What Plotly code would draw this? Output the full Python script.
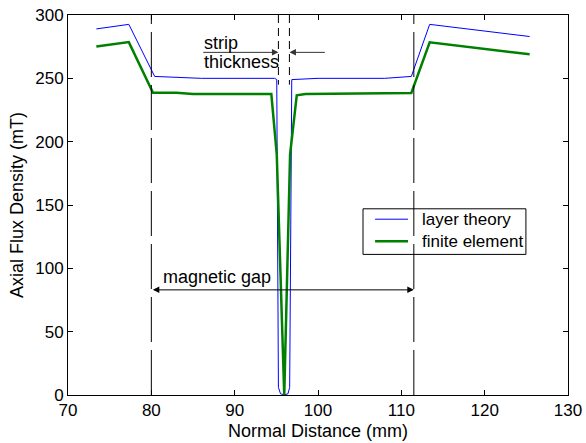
import plotly.graph_objects as go

# Data
blue_x = [73.4, 77.3, 80.4, 82.0, 86.0, 94.8, 95.05, 95.25, 95.5, 95.95, 96.4, 96.6, 96.85, 100.0, 108.0, 111.2, 113.4, 125.4]
blue_y = [289.0, 292.6, 251.5, 251.0, 250.0, 250.0, 249.0, 6.0, 1.0, 0.0, 1.0, 6.0, 249.0, 250.0, 250.0, 251.5, 292.6, 283.0]

green_x = [73.4, 77.3, 80.2, 83.0, 85.0, 94.4, 95.05, 95.95, 96.65, 97.45, 98.5, 110.0, 111.2, 113.4, 125.4]
green_y = [275.2, 278.6, 238.6, 238.6, 237.6, 237.6, 190.0, 0.0, 190.0, 236.6, 237.6, 238.0, 238.4, 278.4, 269.0]

series_names = ["layer theory", "finite element"]
series_colors = ["#0000ff", "#008000"]
series_widths = [1, 2.5]

gap_x = [80.0, 111.5]          # magnetic gap boundaries
strip_x = [95.25, 96.57]       # strip thickness boundaries
gap_arrow_y = 83.0
strip_arrow_y = 270.5

x_ticks = [70, 80, 90, 100, 110, 120, 130]
y_ticks = [0, 50, 100, 150, 200, 250, 300]

FONT = "Liberation Sans, Arial, sans-serif"
TXT = 18

fig = go.Figure()
for xs, ys, nm, col, w in zip([blue_x, green_x], [blue_y, green_y], series_names,
                              series_colors, series_widths):
    fig.add_trace(go.Scatter(x=xs, y=ys, mode="lines", name=nm,
                             line=dict(color=col, width=w), showlegend=False))

shapes = []
for gx in gap_x:
    shapes.append(dict(type="line", xref="x", yref="y", x0=gx, x1=gx, y0=0, y1=300,
                       line=dict(color="black", width=1, dash="45px,8px")))
for sx in strip_x:
    shapes.append(dict(type="line", xref="x", yref="y", x0=sx, x1=sx, y0=300, y1=245,
                       line=dict(color="black", width=1, dash="8px,5px")))

# legend box (drawn, MATLAB style)
leg_x0, leg_x1, leg_y0, leg_y1 = 105.4, 124.95, 111.0, 147.0
leg_rows = [138.8, 121.4]
shapes.append(dict(type="rect", xref="x", yref="y", x0=leg_x0, x1=leg_x1, y0=leg_y0, y1=leg_y1,
                   line=dict(color="black", width=1), fillcolor="rgba(0,0,0,0)"))
for ry, col, w in zip(leg_rows, series_colors, series_widths):
    shapes.append(dict(type="line", xref="x", yref="y", x0=106.85, x1=110.8, y0=ry, y1=ry,
                       line=dict(color=col, width=w)))

annotations = [
    dict(x=112.2, y=(leg_rows[0] + leg_rows[1]) / 2, xref="x", yref="y",
         text="<br>".join(series_names), showarrow=False, align="left",
         xanchor="left", yanchor="middle",
         font=dict(size=17, color="black", family=FONT)),
    # magnetic gap double arrow
    dict(x=gap_x[1], y=gap_arrow_y, ax=gap_x[0], ay=gap_arrow_y, xref="x", yref="y",
         axref="x", ayref="y", text="", showarrow=True, arrowhead=2, startarrowhead=2,
         arrowside="end+start", arrowsize=1.3, arrowwidth=1, arrowcolor="black"),
    dict(x=81.2, y=93, xref="x", yref="y", text="magnetic gap", showarrow=False,
         xanchor="left", yanchor="middle", font=dict(size=TXT, color="black", family=FONT)),
    # strip thickness arrows
    dict(x=strip_x[0], y=strip_arrow_y, ax=86.05, ay=strip_arrow_y, xref="x", yref="y",
         axref="x", ayref="y", text="", showarrow=True, arrowhead=2, arrowsize=1.3,
         arrowwidth=1, arrowcolor="#333333"),
    dict(x=strip_x[1], y=strip_arrow_y, ax=101.0, ay=strip_arrow_y, xref="x", yref="y",
         axref="x", ayref="y", text="", showarrow=True, arrowhead=2, arrowsize=1.3,
         arrowwidth=1, arrowcolor="#333333"),
    dict(x=86.1, y=278, xref="x", yref="y", text="strip", showarrow=False,
         xanchor="left", yanchor="middle", font=dict(size=TXT, color="black", family=FONT)),
    dict(x=86.1, y=263, xref="x", yref="y", text="thickness", showarrow=False,
         xanchor="left", yanchor="middle", font=dict(size=TXT, color="black", family=FONT)),
]

axis_common = dict(showline=True, linecolor="black", linewidth=1, mirror="ticks",
                   ticks="inside", ticklen=5, tickcolor="black", showgrid=False,
                   zeroline=False, automargin=False,
                   tickfont=dict(size=17, color="black", family=FONT))

fig.update_layout(
    width=586, height=443,
    margin=dict(l=68, r=18, t=15, b=48, autoexpand=False),
    paper_bgcolor="white", plot_bgcolor="white",
    font=dict(family=FONT, size=TXT, color="black"),
    xaxis=dict(range=[70, 130], tickvals=x_ticks, autorange=False,
               title=dict(text="Normal Distance (mm)", font=dict(size=TXT), standoff=4),
               **axis_common),
    yaxis=dict(range=[0, 300], tickvals=y_ticks, autorange=False,
               title=dict(text="Axial Flux Density (mT)", font=dict(size=TXT), standoff=6),
               **axis_common),
    shapes=shapes,
    annotations=annotations,
    showlegend=False,
)

fig.write_html("out.html", config={"displayModeBar": False},
               post_script="document.body.style.margin='0';")
